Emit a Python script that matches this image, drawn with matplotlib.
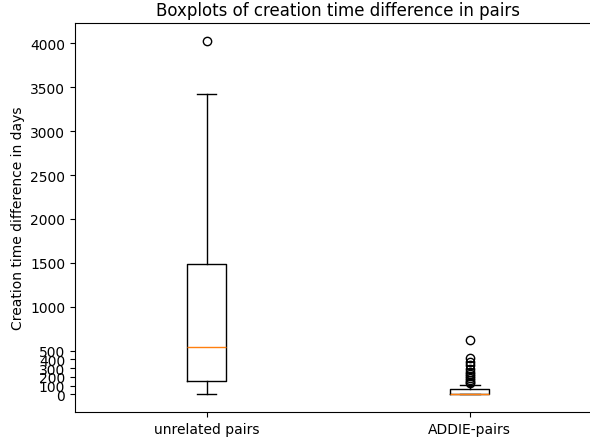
import matplotlib
matplotlib.use("Agg")
from matplotlib import pyplot as plt

# box statistics per group (days)
groups = ["unrelated pairs", "ADDIE-pairs"]
q1 = [150, 0]
medians = [545, 3]
q3 = [1490, 58]
whisker_low = [0, 0]
whisker_high = [3420, 102]
outliers = [
    [4030],
    [615, 420, 375, 330, 290, 260, 230, 205, 185, 165, 145, 125],
]

stats = []
for i, name in enumerate(groups):
    stats.append({
        "label": name,
        "q1": q1[i],
        "med": medians[i],
        "q3": q3[i],
        "whislo": whisker_low[i],
        "whishi": whisker_high[i],
        "fliers": outliers[i],
    })

fig = plt.figure(figsize=(5.9, 4.39), dpi=100)
# axes run a little past the right edge of the canvas
ax = fig.add_axes([0.127, 0.059, 0.892, 0.886])
ax.bxp(stats, showfliers=True)
ax.spines["right"].set_visible(False)
ax.set_title("Boxplots of creation time difference in pairs")
ax.set_ylabel("Creation time difference in days")
ax.set_yticks([0, 100, 200, 300, 400, 500, 1000, 1500, 2000, 2500, 3000, 3500, 4000])
plt.savefig("out.png", dpi=100)
